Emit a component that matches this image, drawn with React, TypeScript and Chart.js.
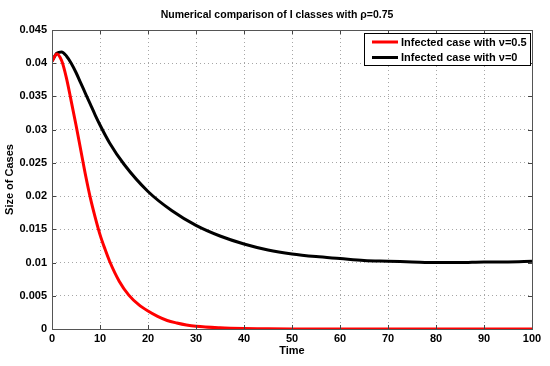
import React, { useEffect, useRef } from "react";
import { Chart, registerables } from "chart.js";

Chart.register(...registerables);

const titleText = "Numerical comparison of I classes with ρ=0.75";
const xTitle = "Time";
const yTitle = "Size of Cases";
const seriesLabels = ["Infected case with ν=0.5", "Infected case with ν=0"];
const seriesColors = ["#ff0000", "#000000"];

const redT = [0, 1, 2, 3, 4, 5, 6, 7, 8, 9, 10, 11, 12, 14, 16, 18, 20, 22, 24, 26, 28, 30, 35, 40, 45, 50, 60, 70, 80, 90, 100];
const redV = [0.0403, 0.0414, 0.0404, 0.0378, 0.0343, 0.0307, 0.0269, 0.0231, 0.0197, 0.0168, 0.0142, 0.0121, 0.0102, 0.0072, 0.0051, 0.0037, 0.0027, 0.0019, 0.00128, 0.0009, 0.0006, 0.0004, 0.00017, 0.00006, 0.00002, 0, 0, 0, 0, 0, 0];

const blackT = [0, 1, 2, 3, 4, 5, 6, 7, 8, 9, 10, 12, 15, 20, 25, 30, 35, 40, 45, 50, 55, 60, 65, 70, 75, 80, 85, 90, 95, 100];
const blackV = [0.0403, 0.0415, 0.0417, 0.0411, 0.04, 0.0386, 0.037, 0.0354, 0.0338, 0.0322, 0.0307, 0.028, 0.0248, 0.0207, 0.0178, 0.0156, 0.014, 0.0128, 0.0119, 0.0113, 0.0109, 0.0106, 0.0103, 0.0102, 0.0101, 0.01, 0.01, 0.0101, 0.0101, 0.0102];

const FONT = "Liberation Sans, Arial, Helvetica, sans-serif";

const framePlugin = {
  id: "frame",
  afterDraw(chart: any) {
    const { ctx, chartArea } = chart;
    const { left, right, top, bottom } = chartArea;
    const xs = chart.scales.x;
    const ys = chart.scales.y;
    ctx.save();
    // inward ticks
    ctx.strokeStyle = "#444";
    ctx.lineWidth = 1;
    ctx.beginPath();
    xs.ticks.forEach((t: any) => {
      const px = Math.round(xs.getPixelForValue(t.value)) + 0.5;
      ctx.moveTo(px, bottom);
      ctx.lineTo(px, bottom - 4);
      ctx.moveTo(px, top);
      ctx.lineTo(px, top + 4);
    });
    ys.ticks.forEach((t: any) => {
      const py = Math.round(ys.getPixelForValue(t.value)) + 0.5;
      ctx.moveTo(left, py);
      ctx.lineTo(left + 4, py);
      ctx.moveTo(right, py);
      ctx.lineTo(right - 4, py);
    });
    ctx.stroke();
    // box
    ctx.strokeStyle = "#555";
    ctx.strokeRect(Math.round(left) + 0.5, Math.round(top) + 0.5, Math.round(right - left), Math.round(bottom - top));

    // title
    ctx.fillStyle = "#000";
    ctx.font = "bold 10.5px " + FONT;
    ctx.textAlign = "center";
    ctx.textBaseline = "middle";
    ctx.fillText(titleText, 277, 15);
    // x title
    ctx.font = "bold 11px " + FONT;
    ctx.fillText(xTitle, (left + right) / 2, 351);
    // y title
    ctx.save();
    ctx.translate(10, (top + bottom) / 2);
    ctx.rotate(-Math.PI / 2);
    ctx.fillText(yTitle, 0, 0);
    ctx.restore();

    // legend
    const lx = 364, ly = 33, lw = 166, lh = 32;
    ctx.fillStyle = "#fff";
    ctx.fillRect(lx, ly, lw, lh);
    ctx.strokeStyle = "#000";
    ctx.lineWidth = 1;
    ctx.strokeRect(lx + 0.5, ly + 0.5, lw, lh);
    ctx.textAlign = "left";
    ctx.font = "bold 11px " + FONT;
    seriesLabels.forEach((lab, i) => {
      const yy = ly + 9 + i * 15.5;
      ctx.strokeStyle = seriesColors[i];
      ctx.lineWidth = 3;
      ctx.beginPath();
      ctx.moveTo(372, yy);
      ctx.lineTo(398, yy);
      ctx.stroke();
      ctx.fillStyle = "#000";
      ctx.fillText(lab, 401, yy + 0.5);
    });
    ctx.restore();
  },
};

export default function App() {
  const ref = useRef<HTMLCanvasElement>(null);
  useEffect(() => {
    document.body.style.margin = "0";
    const ctx = ref.current!.getContext("2d")!;
    const chart = new Chart(ctx, {
      type: "line",
      data: {
        datasets: [
          {
            label: seriesLabels[0],
            data: redT.map((t, i) => ({ x: t, y: redV[i] })),
            borderColor: seriesColors[0],
            borderWidth: 3,
            pointRadius: 0,
            fill: false,
            cubicInterpolationMode: "monotone",
          },
          {
            label: seriesLabels[1],
            data: blackT.map((t, i) => ({ x: t, y: blackV[i] })),
            borderColor: seriesColors[1],
            borderWidth: 3,
            pointRadius: 0,
            fill: false,
            cubicInterpolationMode: "monotone",
          },
        ],
      },
      options: {
        animation: false,
        responsive: false,
        maintainAspectRatio: false,
        layout: { padding: { top: 30, right: 18, left: 0, bottom: 0 } },
        plugins: { legend: { display: false }, title: { display: false }, tooltip: { enabled: false } },
        scales: {
          x: {
            type: "linear",
            min: 0,
            max: 100,
            ticks: { stepSize: 10, color: "#000", font: { family: FONT, size: 11, weight: "bold" }, padding: 3, maxRotation: 0 },
            grid: { color: "rgba(0,0,0,0.35)", drawTicks: false, lineWidth: 1 },
            border: { display: false, dash: [1, 3] },
            afterFit: (s: any) => { s.height = 37; },
          },
          y: {
            type: "linear",
            min: 0,
            max: 0.045,
            ticks: {
              stepSize: 0.005,
              color: "#000",
              font: { family: FONT, size: 11, weight: "bold" },
              padding: 5,
              callback: (v: any) => String(Number(Number(v).toFixed(3))),
            },
            grid: { color: "rgba(0,0,0,0.35)", drawTicks: false, lineWidth: 1 },
            border: { display: false, dash: [1, 3] },
            afterFit: (s: any) => { s.width = 52; },
          },
        },
      },
      plugins: [framePlugin],
    });
    return () => chart.destroy();
  }, []);
  return <canvas ref={ref} width={550} height={366} style={{ display: "block" }} />;
}
